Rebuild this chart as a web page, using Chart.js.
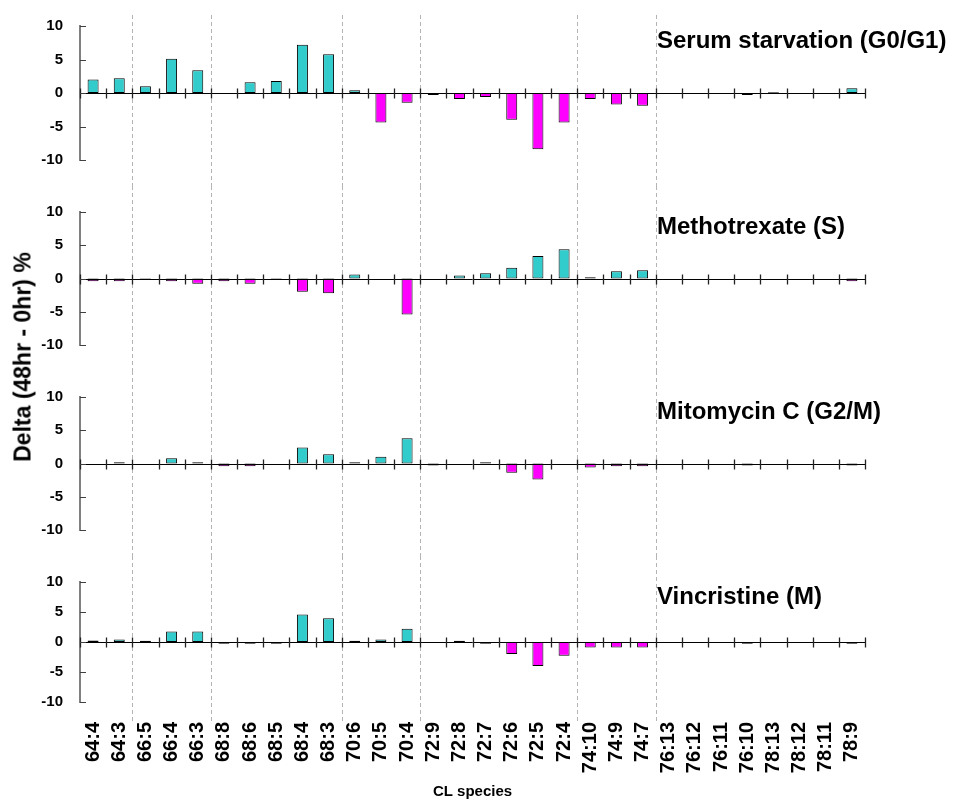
<!DOCTYPE html>
<html>
<head>
<meta charset="utf-8">
<script src="https://cdn.jsdelivr.net/npm/chart.js@4.4.1/dist/chart.umd.min.js"></script>
<style>
  body { margin: 0; background: #fff; }
  #wrap { position: relative; width: 953px; height: 803px; }
  #wrap canvas { position: absolute; left: 0; }
  #ytitle {
    position: absolute; left: 23px; top: 357px;
    transform: translate(-50%, -50%) rotate(-90deg);
    font: bold 23px 'Liberation Sans', Arial, sans-serif;
    white-space: nowrap; color: #000;
  }
</style>
</head>
<body>
<div id="wrap">
  <canvas id="p1" width="953" height="186" style="top:0px"></canvas>
  <canvas id="p2" width="953" height="185" style="top:186px"></canvas>
  <canvas id="p3" width="953" height="185" style="top:371px"></canvas>
  <canvas id="p4" width="953" height="247" style="top:556px"></canvas>
  <div id="ytitle">Delta (48hr - 0hr) %</div>
</div>
<script>
// CL species on the shared x axis
const species = ['64:4', '64:3', '66:5', '66:4', '66:3', '68:8', '68:6', '68:5', '68:4', '68:3',
  '70:6', '70:5', '70:4', '72:9', '72:8', '72:7', '72:6', '72:5', '72:4', '74:10',
  '74:9', '74:7', '76:13', '76:12', '76:11', '76:10', '78:13', '78:12', '78:11', '78:9'];

// delta (48hr - 0hr) % per treatment, null = no change
const serumStarvation = [2.0, 2.2, 1.0, 5.1, 3.4, null, 1.6, 1.8, 7.2, 5.8,
  0.4, -4.4, -1.45, -0.3, -0.9, -0.6, -4.0, -8.4, -4.4, -0.9,
  -1.7, -1.9, null, null, null, -0.3, 0.1, null, null, 0.7];
const methotrexate = [-0.4, -0.4, -0.2, -0.4, -0.8, -0.4, -0.8, -0.2, -2.0, -2.2,
  0.6, null, -5.4, null, 0.45, 0.8, 1.6, 3.4, 4.4, 0.2,
  1.1, 1.25, null, null, null, null, null, null, null, -0.4];
const mitomycinC = [null, 0.2, null, 0.8, 0.2, -0.4, -0.4, null, 2.4, 1.4,
  0.2, 1.0, 3.8, -0.3, null, 0.2, -1.4, -2.4, null, -0.6,
  -0.4, -0.4, null, null, null, -0.3, null, null, null, -0.3];
const vincristine = [0.25, 0.4, 0.2, 1.75, 1.75, -0.3, -0.3, -0.3, 4.6, 3.95,
  0.2, 0.4, 2.2, null, 0.2, -0.3, -2.0, -4.0, -2.3, -0.9,
  -0.9, -0.9, null, null, null, -0.3, null, null, null, -0.3];

const panelTitles = ['Serum starvation (G0/G1)', 'Methotrexate (S)', 'Mitomycin C (G2/M)', 'Vincristine (M)'];
const yTicks = [-10, -5, 0, 5, 10];
// index of the first species of each new chain-length group (dashed dividers)
const groupBreaks = [2, 5, 10, 13, 19, 22];

const UP = '#33CCCC';
const DOWN = '#FF00FF';
const FONT = "'Liberation Sans', Arial, sans-serif";

Chart.defaults.font.family = FONT;
Chart.defaults.color = '#000';

// pixel of the edge before category i (i = 0..n)
function edgeX(x, i) {
  const step = x.getPixelForValue(1) - x.getPixelForValue(0);
  return x.getPixelForValue(0) + (i - 0.5) * step;
}

const panelDecor = {
  id: 'panelDecor',
  beforeDatasetsDraw(chart, args, opts) {
    const { ctx } = chart;
    const x = chart.scales.x;
    ctx.save();
    ctx.strokeStyle = '#b4b4b4';
    ctx.lineWidth = 1;
    ctx.setLineDash([4, 3]);
    groupBreaks.forEach(i => {
      const px = Math.round(edgeX(x, i)) + 0.5;
      ctx.beginPath();
      ctx.moveTo(px, opts.lineTop);
      ctx.lineTo(px, opts.lineBottom);
      ctx.stroke();
    });
    ctx.restore();
  },
  afterDatasetsDraw(chart, args, opts) {
    const { ctx, chartArea } = chart;
    const x = chart.scales.x;
    const y = chart.scales.y;
    const y0 = Math.round(y.getPixelForValue(0)) + 0.5;
    ctx.save();

    // zero line with crossing ticks between categories
    ctx.strokeStyle = '#000';
    ctx.lineWidth = 1;
    ctx.beginPath();
    ctx.moveTo(chartArea.left, y0);
    ctx.lineTo(chartArea.right, y0);
    ctx.stroke();
    ctx.strokeStyle = '#222';
    ctx.lineWidth = 1.3;
    ctx.beginPath();
    for (let i = 0; i <= species.length; i++) {
      const px = Math.round(edgeX(x, i)) + 0.5;
      ctx.moveTo(px, y0 - 5);
      ctx.lineTo(px, y0 + 5);
    }
    ctx.stroke();

    // inside tick marks on the value axis
    ctx.strokeStyle = '#404040';
    ctx.lineWidth = 1;
    ctx.beginPath();
    yTicks.forEach(v => {
      const py = Math.round(y.getPixelForValue(v)) + 0.5;
      ctx.moveTo(chartArea.left, py);
      ctx.lineTo(chartArea.left + 6, py);
    });
    ctx.stroke();

    // treatment caption
    ctx.fillStyle = '#000';
    ctx.font = 'bold 24px ' + FONT;
    ctx.textBaseline = 'alphabetic';
    ctx.textAlign = 'left';
    ctx.fillText(opts.title, 657, chartArea.top + 22);
    ctx.restore();
  }
};

function makePanel(id, title, values, cfg) {
  return new Chart(document.getElementById(id), {
    type: 'bar',
    data: {
      labels: species,
      datasets: [{
        data: values,
        backgroundColor: c => (c.raw < 0 ? DOWN : UP),
        borderColor: '#000',
        borderWidth: 1,
        borderSkipped: false,
        barPercentage: 0.42,
        categoryPercentage: 1
      }]
    },
    options: {
      responsive: false,
      animation: false,
      layout: { padding: { top: cfg.padTop, bottom: cfg.padBottom, left: 0, right: 88 } },
      plugins: {
        legend: { display: false },
        tooltip: { enabled: false },
        panelDecor: { title, lineTop: cfg.lineTop, lineBottom: cfg.lineBottom }
      },
      scales: {
        x: {
          display: !!cfg.showX,
          grid: { display: false, drawTicks: false },
          border: { display: false },
          ticks: {
            autoSkip: false,
            minRotation: 90,
            maxRotation: 90,
            padding: 20,
            font: { size: 20, weight: 'bold' }
          },
          title: {
            display: true,
            text: 'CL species',
            font: { size: 15, weight: 'bold' },
            padding: { top: 0, bottom: 2 }
          },
          afterFit: s => { if (cfg.xHeight) s.height = cfg.xHeight; }
        },
        y: {
          min: -10,
          max: 10,
          afterBuildTicks: s => { s.ticks = yTicks.map(v => ({ value: v })); },
          ticks: { padding: 17, font: { size: 15, weight: 'bold' } },
          grid: { display: false, drawTicks: false },
          border: { color: '#808080', width: 2 },
          afterFit: s => { s.width = 80; }
        }
      }
    },
    plugins: [panelDecor]
  });
}

makePanel('p1', panelTitles[0], serumStarvation, { padTop: 25, padBottom: 24, lineTop: 15, lineBottom: 186 });
makePanel('p2', panelTitles[1], methotrexate, { padTop: 23, padBottom: 24, lineTop: 0, lineBottom: 185 });
makePanel('p3', panelTitles[2], mitomycinC, { padTop: 23, padBottom: 23, lineTop: 0, lineBottom: 185 });
makePanel('p4', panelTitles[3], vincristine, { padTop: 23, padBottom: 0, lineTop: 0, lineBottom: 166, showX: true, xHeight: 101 });
</script>
</body>
</html>
